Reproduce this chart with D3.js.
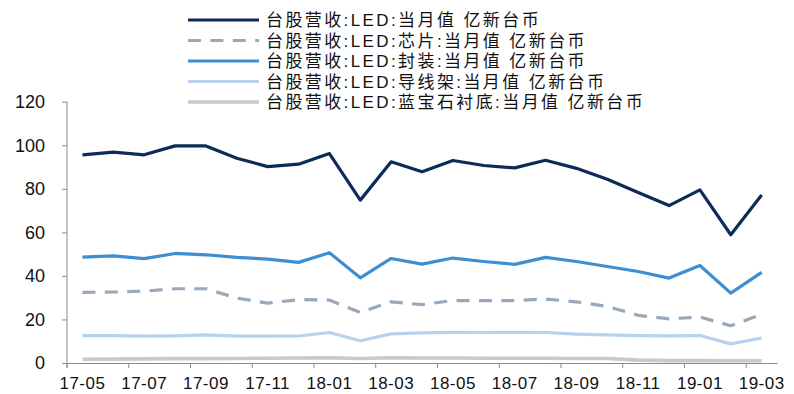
<!DOCTYPE html>
<html>
<head>
<meta charset="utf-8">
<script src="https://cdn.jsdelivr.net/npm/d3@7"></script>
<style>
  html, body { margin: 0; padding: 0; background: #fff; }
  svg { display: block; }
  text { font-family: "Liberation Sans", Arial, "Noto Sans CJK SC", sans-serif; fill: #111; }
</style>
</head>
<body>
<svg id="chart" width="794" height="394"></svg>
<script>
// Months on the category axis
const months = ["17-05","17-06","17-07","17-08","17-09","17-10","17-11","17-12",
                "18-01","18-02","18-03","18-04","18-05","18-06","18-07","18-08",
                "18-09","18-10","18-11","18-12","19-01","19-02","19-03"];

// Monthly revenue, 100M NTD
const ledTotal   = [95.6,96.8,95.6,99.7,99.7,94.0,90.2,91.3,96.2,74.8,92.4,87.8,
                    93.0,90.7,89.6,93.1,89.4,84.4,78.3,72.3,79.5,58.9,77.2];
const ledChip    = [32.4,32.6,33.0,34.1,34.1,29.8,27.5,29.1,28.9,23.2,28.1,26.8,
                    28.7,28.6,28.7,29.4,28.1,26.0,21.9,20.3,21.1,17.1,22.4];
const ledPackage = [48.6,49.2,47.9,50.3,49.7,48.5,47.7,46.2,50.6,39.1,48.0,45.4,
                    48.2,46.6,45.3,48.5,46.6,44.3,42.0,39.0,44.8,32.1,41.6];
const leadFrame  = [12.6,12.6,12.3,12.5,12.9,12.3,12.3,12.4,14.0,10.2,13.4,13.8,
                    14.1,14.0,14.1,14.0,13.3,12.9,12.6,12.5,12.6,8.8,11.5];
const sapphire   = [1.7,1.8,1.9,2.0,2.0,2.1,2.2,2.3,2.4,2.1,2.4,2.3,
                    2.3,2.2,2.2,2.2,2.1,2.1,1.3,1.1,1.1,1.0,1.0];

const seriesNames = ["台股营收:LED:当月值 亿新台币",
                     "台股营收:LED:芯片:当月值 亿新台币",
                     "台股营收:LED:封装:当月值 亿新台币",
                     "台股营收:LED:导线架:当月值 亿新台币",
                     "台股营收:LED:蓝宝石衬底:当月值 亿新台币"];

const yTicks = [0, 20, 40, 60, 80, 100, 120];

const series = [
  { name: seriesNames[0], values: ledTotal,   color: "#0d2b57", width: 3.2, dash: null },
  { name: seriesNames[1], values: ledChip,    color: "#98a9bc", width: 3.2, dash: "13,9.4" },
  { name: seriesNames[2], values: ledPackage, color: "#3d8fd1", width: 3.2, dash: null },
  { name: seriesNames[3], values: leadFrame,  color: "#b7d1ee", width: 3.2, dash: null },
  { name: seriesNames[4], values: sapphire,   color: "#c9c9c9", width: 3.6, dash: null }
];

const svg = d3.select("#chart");
const axisColor = "#8c8c8c";

const x = d3.scaleBand().domain(months).range([67, 777.1]).paddingInner(0).paddingOuter(0);
const y = d3.scaleLinear().domain([0, 120]).range([363, 101.7]);
const bw = x.bandwidth();

// Y axis
const yAxis = svg.append("g")
  .attr("transform", "translate(67,0)")
  .call(d3.axisLeft(y).tickValues(yTicks).tickSize(5).tickSizeOuter(0).tickPadding(17));
yAxis.select(".domain").remove();
yAxis.selectAll(".tick line").attr("stroke", axisColor);
yAxis.selectAll(".tick text").style("font-size", "18px").attr("fill", "#111");
svg.append("line")
  .attr("x1", 67).attr("x2", 67).attr("y1", y(120)).attr("y2", y(0) + 5)
  .attr("stroke", axisColor).attr("stroke-width", 1);

// X axis: labels on every other month, ticks on the category boundaries
const labelMonths = months.filter((d, i) => i % 2 === 0);
const xAxis = svg.append("g")
  .attr("transform", `translate(0,${y(0)})`)
  .call(d3.axisBottom(x).tickValues(labelMonths).tickSize(5).tickSizeOuter(0).tickPadding(9));
xAxis.select(".domain").attr("stroke", axisColor);
xAxis.selectAll(".tick line")
  .attr("x1", -bw / 2).attr("x2", -bw / 2).attr("stroke", axisColor);
xAxis.selectAll(".tick text")
  .style("font-size", "17px").style("letter-spacing", "0.5px").attr("fill", "#111");

// Lines
const line = vals => d3.line()
  .x((d, i) => x(months[i]) + bw / 2)
  .y(d => y(d))(vals);

// Draw from back to front so the total series sits on top
series.slice().reverse().forEach(s => {
  svg.append("path")
    .attr("d", line(s.values))
    .attr("fill", "none")
    .attr("stroke", s.color)
    .attr("stroke-width", s.width)
    .attr("stroke-linejoin", "round")
    .attr("stroke-dasharray", s.dash);
});

// Legend
const legend = svg.append("g");
series.forEach((s, i) => {
  const cy = 20 + i * 20.5;
  legend.append("line")
    .attr("x1", 188).attr("x2", 259).attr("y1", cy).attr("y2", cy)
    .attr("stroke", s.color).attr("stroke-width", s.width)
    .attr("stroke-dasharray", s.dash);
  legend.append("text")
    .attr("x", 266).attr("y", cy).attr("dy", "0.36em")
    .style("font-size", "17px").style("letter-spacing", "2.4px")
    .text(s.name);
});
</script>
</body>
</html>
